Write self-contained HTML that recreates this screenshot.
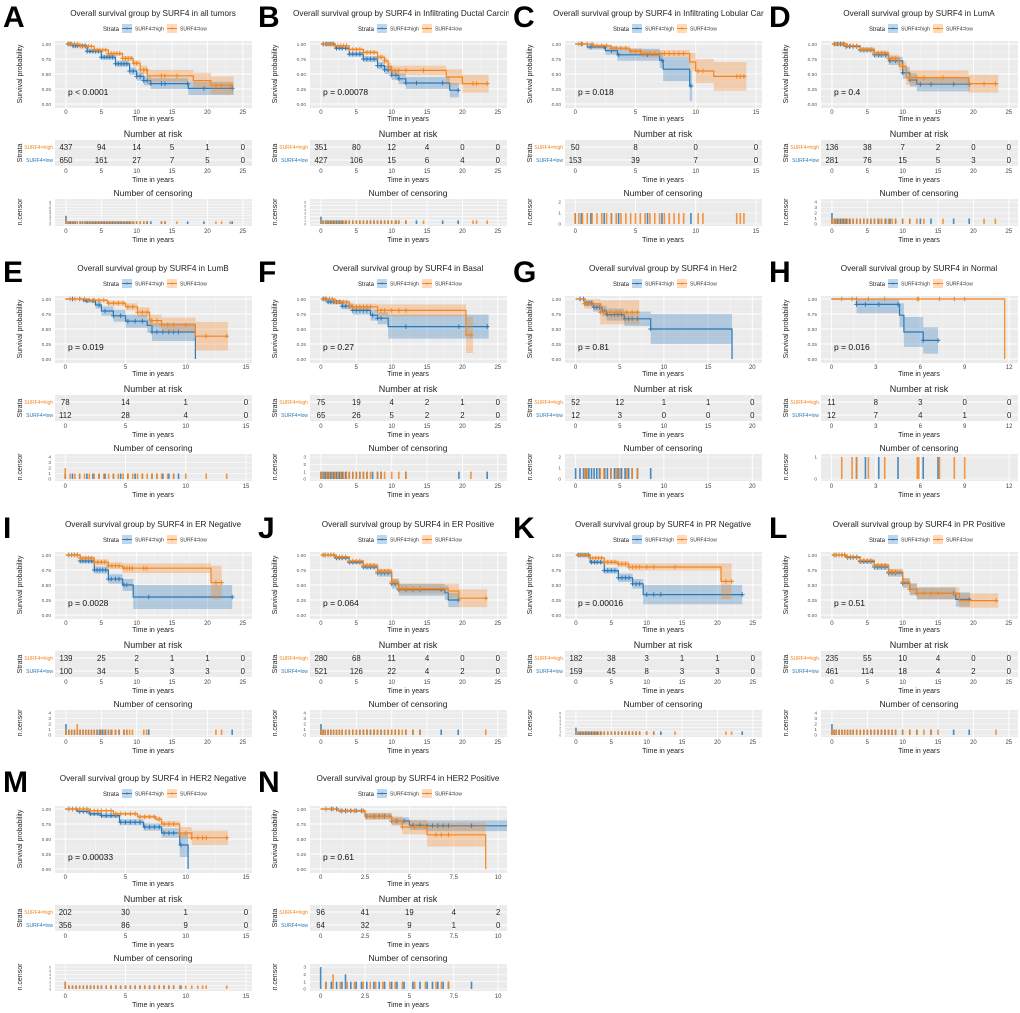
<!DOCTYPE html>
<html><head><meta charset="utf-8"><style>
html,body{margin:0;padding:0;background:#fff;}
svg{display:block;font-family:"Liberation Sans",sans-serif;}
</style></head><body>
<svg id="fig" width="1020" height="1013" viewBox="0 0 1020 1013" xmlns="http://www.w3.org/2000/svg"></svg>
<script>
// ---- panel metadata ----
const panelIds = ['A','B','C','D','E','F','G','H','I','J','K','L','M','N'];
const titles = ['Overall survival group by SURF4 in all tumors','Overall survival group by SURF4 in Infiltrating Ductal Carcinoma','Overall survival group by SURF4 in Infiltrating Lobular Carcinoma','Overall survival group by SURF4 in LumA','Overall survival group by SURF4 in LumB','Overall survival group by SURF4 in Basal','Overall survival group by SURF4 in Her2','Overall survival group by SURF4 in Normal','Overall survival group by SURF4 in ER Negative','Overall survival group by SURF4 in ER Positive','Overall survival group by SURF4 in PR Negative','Overall survival group by SURF4 in PR Positive','Overall survival group by SURF4 in HER2 Negative','Overall survival group by SURF4 in HER2 Positive'];
const pValues = ['p < 0.0001','p = 0.00078','p = 0.018','p = 0.4','p = 0.019','p = 0.27','p = 0.81','p = 0.016','p = 0.0028','p = 0.064','p = 0.00016','p = 0.51','p = 0.00033','p = 0.61'];
const xTicks = [[0,5,10,15,20,25],[0,5,10,15,20,25],[0,5,10,15],[0,5,10,15,20,25],[0,5,10,15],[0,5,10,15,20,25],[0,5,10,15,20],[0,3,6,9,12],[0,5,10,15,20,25],[0,5,10,15,20,25],[0,5,10,15,20,25],[0,5,10,15,20,25],[0,5,10,15],[0,2.5,5,7.5,10]];
const xDomains = [[-1.55,26.3],[-1.55,26.3],[-0.85,15.5],[-1.55,26.3],[-0.85,15.5],[-1.55,26.3],[-1.2,21.1],[-0.7,12.6],[-1.55,26.3],[-1.55,26.3],[-1.55,26.3],[-1.55,26.3],[-0.85,15.5],[-0.6,10.5]];
const riskHigh = [[437,94,14,5,1,0],[351,80,12,4,0,0],[50,8,0,0],[136,38,7,2,0,0],[78,14,1,0],[75,19,4,2,1,0],[52,12,1,1,0],[11,8,3,0,0],[139,25,2,1,1,0],[280,68,11,4,0,0],[182,38,3,1,1,0],[235,55,10,4,0,0],[202,30,1,0],[96,41,19,4,2]];
const riskLow = [[650,161,27,7,5,0],[427,106,15,6,4,0],[153,39,7,0],[281,76,15,5,3,0],[112,28,4,0],[65,26,5,2,2,0],[12,3,0,0,0],[12,7,4,1,0],[100,34,5,3,3,0],[521,126,22,4,2,0],[159,45,8,3,3,0],[461,114,18,4,2,0],[356,86,9,0],[64,32,9,1,0]];
const censorMax = [8,6,2,4,4,3,2,1,4,4,6,4,6,3];
// ---- survival knots [time, surv, ci half-width] : blue = SURF4=high, orange = SURF4=low ----
const survHigh = [
 [[0,1,0],[1,.97,.02],[3,.88,.03],[5,.78,.04],[7,.67,.05],[9,.55,.06],[10,.46,.07],[11,.39,.08],[12,.34,.09],[17.3,.26,.11],[23.7,.26,.11]],
 [[0,1,0],[2,.93,.02],[4,.83,.04],[6,.75,.05],[8,.64,.06],[9,.57,.07],[10,.48,.08],[11,.42,.09],[12,.35,.1],[18.2,.23,.12],[19.5,.23,.12]],
 [[0,1,0],[1,.95,.04],[2.5,.89,.07],[3.5,.82,.1],[7,.73,.13],[7.3,.58,.2],[9.5,.30,.25],[9.7,.30,.25]],
 [[0,1,0],[2,.96,.02],[4,.90,.04],[6,.82,.05],[8,.72,.07],[10,.52,.1],[11,.40,.11],[12,.33,.12],[19.5,.33,.12]],
 [[0,1,0],[1.5,.97,.03],[2.5,.90,.06],[3,.80,.08],[4,.72,.1],[5,.63,.11],[6.8,.56,.12],[7.2,.45,.15],[10.8,.45,.15],[10.8,0,0]],
 [[0,1,0],[1,.95,.03],[3,.88,.05],[4.5,.81,.07],[7,.73,.09],[8,.68,.1],[9.5,.54,.2],[23.7,.54,.2]],
 [[0,1,0],[1,.93,.05],[2,.86,.07],[3,.80,.09],[3.5,.74,.1],[5.5,.67,.12],[8.5,.50,.25],[17.7,.50,.25],[17.7,0,0]],
 [[0,1,0],[1.7,.91,.15],[4.6,.73,.2],[4.9,.45,.25],[6.2,.31,.22],[7.2,.31,.22]],
 [[0,1,0],[2,.90,.04],[4,.75,.06],[6,.60,.08],[8,.50,.1],[9.5,.30,.2],[23.5,.30,.2]],
 [[0,1,0],[2,.95,.02],[4,.88,.03],[6,.80,.04],[8,.70,.06],[10,.52,.08],[11,.42,.1],[17.5,.37,.12],[18,.25,.12],[19.5,.25,.12]],
 [[0,1,0],[2,.88,.03],[4,.74,.05],[6,.62,.07],[8,.52,.08],[9.5,.34,.16],[23.5,.34,.16]],
 [[0,1,0],[2,.96,.02],[4,.89,.03],[6,.80,.05],[8,.70,.06],[10,.53,.08],[11,.43,.1],[12,.36,.1],[17.5,.26,.12],[19.5,.26,.12]],
 [[0,1,0],[1,.96,.02],[2,.92,.03],[3,.89,.04],[4.5,.78,.05],[6.5,.70,.06],[8,.60,.08],[9.5,.40,.2],[10.2,.40,.2],[10.2,0,0]],
 [[0,1,0],[1,.97,.02],[2.5,.88,.05],[4,.80,.06],[5,.73,.08],[6,.72,.09],[10.5,.72,.13]]
];
const survLow = [
 [[0,1,0],[2,.96,.01],[4,.90,.02],[6,.84,.03],[8,.76,.04],[9.5,.68,.05],[10.5,.57,.07],[11.5,.47,.1],[18,.39,.13],[20.5,.31,.15],[23.7,.31,.15]],
 [[0,1,0],[2,.97,.01],[4,.91,.02],[6,.86,.03],[8,.78,.04],[9,.72,.05],[9.5,.62,.07],[10,.56,.08],[17.7,.45,.13],[20,.34,.15],[23.7,.34,.15]],
 [[0,1,0],[1.5,.97,.02],[3,.93,.03],[4.5,.88,.05],[5.5,.84,.06],[9.5,.70,.15],[10,.55,.2],[11.5,.46,.24],[14.2,.46,.24]],
 [[0,1,0],[2,.97,.01],[4,.91,.03],[6,.85,.04],[8,.76,.06],[9.5,.63,.08],[10.5,.44,.12],[19.3,.34,.15],[23.5,.34,.15]],
 [[0,1,0],[2,.98,.02],[3.5,.93,.04],[5,.87,.06],[6,.78,.08],[7,.64,.1],[8,.57,.12],[10.8,.38,.24],[13.5,.38,.24]],
 [[0,1,0],[2,.95,.03],[4,.87,.05],[8,.81,.1],[20.5,.40,.3],[21.5,.40,.3]],
 [[0,1,0],[1,.92,.08],[2.8,.78,.2],[7.2,.78,.2]],
 [[0,1,0],[11.7,1,0],[11.7,0,0]],
 [[0,1,0],[2,.95,.03],[4,.88,.05],[6,.82,.06],[8,.78,.08],[20.5,.54,.28],[22,.54,.28]],
 [[0,1,0],[2,.97,.01],[4,.90,.02],[6,.83,.03],[8,.73,.04],[10,.55,.06],[11,.44,.08],[18,.40,.12],[19.5,.28,.15],[23.5,.28,.15]],
 [[0,1,0],[2,.95,.02],[4,.88,.04],[6,.85,.05],[7.5,.80,.06],[20.5,.56,.3],[22,.56,.3]],
 [[0,1,0],[2,.97,.01],[4,.91,.02],[6,.83,.03],[8,.72,.05],[10,.55,.07],[11,.43,.09],[12,.36,.1],[18,.24,.12],[23.5,.24,.12]],
 [[0,1,0],[2,.97,.01],[4,.92,.02],[6,.87,.03],[7.5,.83,.04],[8,.75,.05],[9.5,.60,.1],[10.5,.52,.12],[13.5,.52,.12]],
 [[0,1,0],[1,.97,.02],[2.5,.88,.06],[4,.80,.08],[4.6,.70,.12],[6,.57,.2],[9.3,.57,.2],[9.3,0,0]]
];
// ---- censoring times ----
const censHigh = [
 [0,0,0,.3,.6,1,1.3,1.6,2,2.3,2.7,3,3.4,3.8,4.2,4.6,5,5.4,5.8,6.2,6.6,7,7.4,7.8,8.2,8.6,9,9.5,10,10.5,11,11.5,12,13.5,14,17.2,19.5,23.5],
 [0,0,.3,.7,1,1.4,1.8,2.2,2.6,3,3.5,4,4.5,5,5.5,6,6.5,7,7.5,8,8.5,9,9.5,10,10.6,11,12,13.5,17.2,19.4],
 [0,.5,1.3,2.4,3,3.6,6,7.2,9.6],
 [0,0,.4,.8,1.2,1.6,2,2.5,3,3.5,4,4.5,5,5.5,6,6.6,7,7.6,8.2,9,10,11,12.5,14,17.2,19.4],
 [0,.6,1.2,1.8,2.3,2.8,3.3,4,4.6,5.2,5.8,6.4,7.2,7.6,8.1,8.6,9,9.4],
 [0,.3,.6,1,1.4,1.8,2.2,2.6,3,3.5,4,4.5,5,5.5,6,6.5,7.3,8,8.5,12,19.5,23.5],
 [0,.5,.9,1.2,1.5,1.8,2.1,2.4,2.7,3.3,3.6,4,4.4,4.8,5.2,5.6,6,6.4,7,8.5],
 [1.7,2.3,3.2,4.5,6.2,7.2],
 [0,0,.4,.8,1.2,1.6,2,2.4,2.8,3.2,3.6,4,4.4,4.8,5.2,5.6,6,6.4,7,7.5,8.2,8.6,11.7,23.5],
 [0,0,.3,.6,1,1.4,1.8,2.2,2.6,3,3.5,4,4.5,5,5.5,6,6.5,7,7.5,8,8.5,9,9.5,10,10.5,11,12,13,14,17,19.4],
 [0,0,.3,.6,1,1.4,1.8,2.2,2.6,3,3.5,4,4.5,5,5.5,6,6.5,7,7.5,8,8.5,9,10,11,12,23.5],
 [0,0,.3,.6,1,1.4,1.8,2.2,2.6,3,3.5,4,4.5,5,5.5,6,6.5,7,7.5,8,8.5,9,10,11,12,14,17.2,19.4],
 [0,0,.3,.6,.9,1.2,1.5,1.8,2.1,2.4,2.7,3,3.4,3.8,4.2,4.6,5,5.4,5.8,6.2,6.6,7,7.4,7.8,8.2,8.6,9,9.6],
 [0,0,0,.3,.6,.9,1.2,1.4,1.4,1.7,2,2.3,2.6,3,3.3,3.6,4,4.3,4.7,5.2,5.6,6,6.3,6.6,6.9,7.2,8.5]
];
const censLow = [
 [0,0,.4,.8,1.2,1.6,2,2.4,2.8,3.2,3.6,4,4.4,4.8,5.2,5.6,6,6.4,6.8,7.2,7.6,8,8.4,8.8,9.2,9.6,10,10.5,11,11.4,13.5,14,15.7,21.2,22,23.2],
 [0,.4,.8,1.2,1.6,2,2.4,2.8,3.2,3.6,4,4.5,5,5.5,6,6.5,7,7.5,8,8.5,9,9.5,10,10.5,11,12,14.5,21.5,22,23.5],
 [0,.3,.6,1,1.4,1.8,2.2,2.6,3,3.4,3.8,4.2,4.6,5,5.4,5.8,6.2,6.6,7,7.4,7.8,8.2,8.6,9,10.2,10.6,13.4,13.7,14],
 [0,.3,.6,1,1.4,1.8,2.2,2.6,3,3.5,4,4.5,5,5.5,6,6.5,7,7.5,8,8.5,9,10,11,12,13,15.7,21.5,23.1],
 [0,0,.4,.8,1.2,1.6,2,2.4,2.8,3.2,3.6,4,4.4,4.8,5.2,5.6,6,6.4,6.8,7.2,7.6,8,8.5,9,10,11.7,13.4],
 [0,.4,.8,1.2,1.6,2,2.4,2.8,3.2,3.6,4,4.5,5,5.5,6,6.5,7,8,8.5,9,10,11,12,21.2],
 [1,1.3,2.8,3.2,4,4.6,5,5.8,6.4,7],
 [.7,1.4,1.7,2.5,3.6,5.8,5.9,7.3,8.3,9],
 [0,.4,.8,1.2,1.6,1.6,2,2.4,2.8,3.2,3.6,4,4.5,5,5.5,6,6.5,7,7.5,8.2,8.6,9,9.4,11,11.4,21.2,22],
 [0,.3,.6,1,1.4,1.8,2.2,2.6,3,3.5,4,4.5,5,5.5,6,6.5,7,7.5,8,8.5,9,9.5,10,10.5,11,11.5,12,13,14,23.3],
 [0,.4,.8,1.2,1.6,2,2.4,2.8,3.2,3.6,4,4.5,5,5.5,6,6.5,7,7.5,8,8.5,9,10,11,14,21.2,22],
 [0,.3,.6,1,1.4,1.8,2.2,2.6,3,3.5,4,4.5,5,5.5,6,6.5,7,7.5,8,8.5,9,10,11,12,13,14,15,23.2],
 [0,0,.3,.6,.9,1.2,1.5,1.8,2.1,2.4,2.7,3,3.4,3.8,4.2,4.6,5,5.4,5.8,6.2,6.6,7,7.4,7.8,8.2,8.6,9,9.5,10,10.5,11,11.4,11.7,13.4],
 [.3,.7,.7,1.1,1.5,1.9,2.4,2.8,3.1,3.5,3.9,4.2,4.6,5.3,5.9,6.5,6.8,7.2]
];
// ---- layout ----
const colX = [0,255,510,766];
const rowY = [0,255,511,765];
const BLUE = '#2a78b8', ORANGE = '#f5851f';
const svg = document.getElementById('fig');
const NS = 'http://www.w3.org/2000/svg';
function mk(tag, attrs, parent, text){
  const e = document.createElementNS(NS, tag);
  for (const k in attrs) e.setAttribute(k, attrs[k]);
  if (text !== undefined) e.textContent = text;
  parent.appendChild(e);
  return e;
}
const PX0=55, PX1=252;
function stepAt(knots, t){
  let s = knots[0][1];
  for (const k of knots){ if (k[0] <= t) s = k[1]; else break; }
  return s;
}
function drawPanel(i){
  const g = mk('g', {transform:`translate(${colX[i%4]},${rowY[Math.floor(i/4)]})`}, svg);
  
  
  const clipId = 'clip' + i;
  const cp = mk('clipPath', {id:clipId}, g); mk('rect',{x:0,y:0,width:254,height:250}, cp);
  const inner = mk('g', {'clip-path':`url(#${clipId})`}, g);
  const dom = xDomains[i];
  const xs = t => PX0 + (t - dom[0]) / (dom[1] - dom[0]) * (PX1 - PX0);
  const ys = s => 104 - 60 * s;
  const L = mk('text', {x:3, y:27, 'font-size':30, 'font-weight':'bold', fill:'#000'}, inner, panelIds[i]);
  
  
  const long = titles[i].length > 55;
  const T = mk('text', {x: long ? (i===1?38:43) : 153, y:16, 'font-size':8.2, 'text-anchor': long?'start':'middle', fill:'#222'}, inner, titles[i]);
  
  
  const lg = mk('g', {}, inner);
  
  
  mk('text', {x:103, y:31, 'font-size':6, fill:'#222'}, lg, 'Strata');
  [[122,BLUE,'SURF4=high'],[167,ORANGE,'SURF4=low']].forEach(([lx,c,lab])=>{
    const e = mk('g',{},lg);
    
    
    mk('rect',{x:lx,y:24,width:10,height:9,fill:c,'fill-opacity':0.3},e);
    mk('line',{x1:lx,y1:28.5,x2:lx+10,y2:28.5,stroke:c,'stroke-width':1},e);
    mk('text',{x:lx+5,y:30.5,'font-size':6,'text-anchor':'middle',fill:c},e,'+');
    mk('text',{x:lx+13,y:30.5,'font-size':5,fill:'#333'},e,lab);
  });
  const pg = mk('g',{},inner);
  
  
  mk('rect',{x:PX0,y:41,width:PX1-PX0,height:67,fill:'#ebebeb'},pg);
  const ticks = xTicks[i];
  const step = ticks[1]-ticks[0];
  for (let k=0;k<ticks.length;k++){
    mk('line',{x1:xs(ticks[k]),x2:xs(ticks[k]),y1:41,y2:108,stroke:'#fff','stroke-width':0.9},pg);
    const m = ticks[k]+step/2; if (xs(m) < PX1) mk('line',{x1:xs(m),x2:xs(m),y1:41,y2:108,stroke:'#f6f6f6','stroke-width':0.5},pg);
    mk('text',{x:xs(ticks[k]),y:114,'font-size':6,'text-anchor':'middle',fill:'#444'},pg,String(ticks[k]));
  }
  ['0.00','0.25','0.50','0.75','1.00'].forEach((lab,k)=>{
    const v = k*0.25;
    mk('line',{x1:PX0,x2:PX1,y1:ys(v),y2:ys(v),stroke:'#fff','stroke-width':0.9},pg);
    if (k<4) mk('line',{x1:PX0,x2:PX1,y1:ys(v+0.125),y2:ys(v+0.125),stroke:'#f6f6f6','stroke-width':0.5},pg);
    mk('text',{x:51,y:ys(v)+1.8,'font-size':4.8,'text-anchor':'end',fill:'#555'},pg,lab);
  });
  const yl = mk('text',{x:0,y:0,'font-size':7,'text-anchor':'middle',fill:'#222',transform:'translate(22,74) rotate(-90)'},pg,'Survival probability');
  
  
  const xl = mk('text',{x:153,y:121,'font-size':7,'text-anchor':'middle',fill:'#222'},pg,'Time in years');
  
  
  [[survHigh[i],censHigh[i],BLUE,'high'],[survLow[i],censLow[i],ORANGE,'low']].forEach(([kn,cens,c,nm])=>{
    const ptsU = [], ptsL = [];
    for (let j=0;j<kn.length;j++){
      const t0 = kn[j][0], t1 = j+1<kn.length ? kn[j+1][0] : kn[j][0];
      const u = Math.min(1, kn[j][1]+kn[j][2]), l = Math.max(0, kn[j][1]-kn[j][2]);
      ptsU.push([xs(t0),ys(u)],[xs(t1),ys(u)]);
      ptsL.push([xs(t0),ys(l)],[xs(t1),ys(l)]);
    }
    const poly = ptsU.concat(ptsL.reverse()).map(p=>p[0].toFixed(1)+','+p[1].toFixed(1)).join(' ');
    const band = mk('polygon',{points:poly,fill:c,'fill-opacity':0.3,stroke:'none'},pg);
    
    
    let d = `M${xs(kn[0][0])},${ys(kn[0][1])}`;
    for (let j=1;j<kn.length;j++){ d += ` H${xs(kn[j][0]).toFixed(1)} V${ys(kn[j][1]).toFixed(1)}`; }
    const line = mk('path',{d:d,fill:'none',stroke:c,'stroke-width':1.2},pg);
    
    
    const tEnd = kn[kn.length-1][0];
    cens.forEach(t=>{
      if (t<=0 || t>tEnd) return;
      const s = stepAt(kn.filter(k=>!(k[0]===tEnd && k[1]===0)), t);
      const x = xs(t), y = ys(s);
      mk('path',{d:`M${x-2.3},${y}H${x+2.3}M${x},${y-2.3}V${y+2.3}`,stroke:c,'stroke-width':1},pg);
    });
  });
  const pv = mk('text',{x:68,y:95,'font-size':8.5,fill:'#111'},pg,pValues[i]);
  
  
  const rg = mk('g',{},inner);
  
  
  mk('text',{x:153,y:137,'font-size':9,'text-anchor':'middle',fill:'#222'},rg,'Number at risk');
  mk('rect',{x:PX0,y:140,width:PX1-PX0,height:26,fill:'#ebebeb'},rg);
  ticks.forEach(t=>mk('line',{x1:xs(t),x2:xs(t),y1:140,y2:166,stroke:'#fff','stroke-width':0.9},rg));
  [147,160].forEach(y=>mk('line',{x1:PX0,x2:PX1,y1:y,y2:y,stroke:'#fff','stroke-width':0.9},rg));
  mk('text',{x:53,y:149,'font-size':5,'text-anchor':'end',fill:ORANGE},rg,'SURF4=high');
  mk('text',{x:53,y:162,'font-size':5,'text-anchor':'end',fill:BLUE},rg,'SURF4=low');
  mk('text',{x:0,y:0,'font-size':7,'text-anchor':'middle',fill:'#222',transform:'translate(22,153) rotate(-90)'},rg,'Strata');
  riskHigh[i].forEach((v,k)=>{ if (k<ticks.length) mk('text',{x:xs(ticks[k]),y:150,'font-size':7.8,'text-anchor':'middle',fill:'#222'},rg,String(v)); });
  riskLow[i].forEach((v,k)=>{ if (k<ticks.length) mk('text',{x:xs(ticks[k]),y:163,'font-size':7.8,'text-anchor':'middle',fill:'#222'},rg,String(v)); });
  ticks.forEach(t=>mk('text',{x:xs(t),y:173,'font-size':6,'text-anchor':'middle',fill:'#444'},rg,String(t)));
  mk('text',{x:153,y:182,'font-size':7,'text-anchor':'middle',fill:'#222'},rg,'Time in years');
  const cg = mk('g',{},inner);
  
  
  mk('text',{x:153,y:196,'font-size':8.5,'text-anchor':'middle',fill:'#222'},cg,'Number of censoring');
  mk('rect',{x:PX0,y:199,width:PX1-PX0,height:27,fill:'#ebebeb'},cg);
  ticks.forEach(t=>mk('line',{x1:xs(t),x2:xs(t),y1:199,y2:226,stroke:'#fff','stroke-width':0.9},cg));
  const cm = censorMax[i];
  const cy = n => 224 - n * (22 / cm);
  for (let n=0;n<=cm;n++){
    mk('line',{x1:PX0,x2:PX1,y1:cy(n),y2:cy(n),stroke:'#fff','stroke-width':0.6},cg);
    mk('text',{x:51,y:cy(n)+1.6,'font-size':cm>4?3.2:4.8,'text-anchor':'end',fill:'#555'},cg,String(n));
  }
  [[censHigh[i],BLUE],[censLow[i],ORANGE]].forEach(([cens,c])=>{
    const counts = {};
    cens.forEach(t=>{counts[t]=(counts[t]||0)+1;});
    Object.keys(counts).forEach(k=>{
      const t = parseFloat(k), n = counts[k];
      mk('rect',{x:xs(t)-0.8,y:cy(n),width:1.6,height:224-cy(n),fill:c,'fill-opacity':0.85},cg);
    });
  });
  mk('text',{x:0,y:0,'font-size':7,'text-anchor':'middle',fill:'#222',transform:'translate(22,212) rotate(-90)'},cg,'n.censor');
  ticks.forEach(t=>mk('text',{x:xs(t),y:233,'font-size':6,'text-anchor':'middle',fill:'#444'},cg,String(t)));
  mk('text',{x:153,y:242,'font-size':7,'text-anchor':'middle',fill:'#222'},cg,'Time in years');
}
for (let i=0;i<panelIds.length;i++) drawPanel(i);
</script>
</body></html>
